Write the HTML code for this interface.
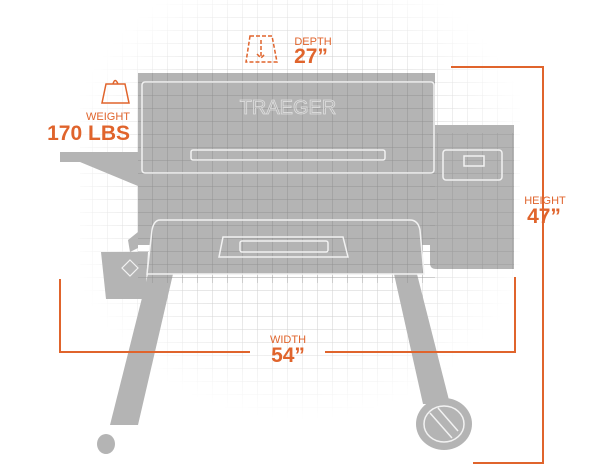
<!DOCTYPE html>
<html><head><meta charset="utf-8"><style>
html,body{margin:0;padding:0;background:#fff;width:600px;height:467px;overflow:hidden}
svg{display:block}
text{font-family:"Liberation Sans",Arial,sans-serif;fill:#e0642c}
</style></head><body>
<svg width="600" height="467" viewBox="0 0 600 467" xmlns="http://www.w3.org/2000/svg">
<defs>
<pattern id="g" width="15" height="13" patternUnits="userSpaceOnUse" x="3" y="5">
<path d="M15 0V13M0 13H15" stroke="#cfcfcf" stroke-width="1" fill="none"/>
</pattern>
<pattern id="gd" width="15" height="13" patternUnits="userSpaceOnUse" x="3" y="5">
<path d="M15 0V13M0 13H15" stroke="#858585" stroke-width="1" fill="none"/>
</pattern>
<radialGradient id="fade" cx="0.5" cy="0.45" r="0.55">
<stop offset="0.6" stop-color="#fff" stop-opacity="1"/>
<stop offset="1" stop-color="#fff" stop-opacity="0"/>
</radialGradient>
<mask id="m"><rect x="80" y="0" width="440" height="420" fill="url(#fade)"/></mask>
</defs>
<rect x="80" y="0" width="440" height="420" fill="url(#g)" mask="url(#m)"/>
<g fill="#b4b4b4">
<rect x="60" y="152" width="82" height="10"/>
<polygon points="80,162 138,162 138,186"/>
<polygon points="128,240 138,232 138,248 130,252"/>
<rect x="430" y="125" width="84" height="8"/>
<path d="M430 133 H514 V269 H436 Q430 269 430 263Z"/>
<rect x="138" y="73" width="297" height="172"/>
<path d="M160 220 H410 Q418 220 420 230 L424 274 H147 L152 230 Q154 220 160 220Z"/>
<polygon points="101,252 148,252 145,299 106,299"/>
<polygon points="148,274 173,274 138,425 110,425"/>
<polygon points="394,274 417,274 450,404 423,404"/>
<ellipse cx="106" cy="444" rx="9" ry="10"/>
<ellipse cx="444" cy="424" rx="28" ry="26"/>
</g>
<rect x="138" y="73" width="297" height="210" fill="url(#gd)" opacity="0.7"/>
<rect x="430" y="133" width="84" height="136" fill="url(#gd)" opacity="0.5"/>
<g fill="none" stroke="#f2f2f2" stroke-width="1.5">
<rect x="142" y="82" width="292" height="91" rx="3"/>
<rect x="191" y="150" width="194" height="10" rx="2"/>
<path d="M160 220 H410 Q418 220 420 230 L424 274 H147 L152 230 Q154 220 160 220Z"/>
<polygon points="223,237 343,237 348,257 219,257"/>
<rect x="240" y="241" width="88" height="11" rx="2"/>
<rect x="443" y="150" width="59" height="30" rx="3"/>
<rect x="464" y="156" width="20" height="10"/>
<ellipse cx="444" cy="424" rx="20" ry="18"/>
<path d="M430 413 L452 438 M438 408 L458 431"/>
<path d="M130 260 L138 268 L130 276 L122 268Z" stroke-width="1.2"/>
</g>
<text x="288" y="114" text-anchor="middle" font-family="Liberation Serif" font-size="20" style="fill:none;stroke:#dedede;stroke-width:0.8">TRAEGER</text>
<g stroke="#e0642c" stroke-width="2" fill="none">
<path d="M451 67 H543 V463 H473"/>
<path d="M60 279 V352 H250 M325 352 H515 V277"/>
<path d="M106 84 H125 L129 103 H102 Z M113 84 Q115 77 118 84" stroke-width="1.5"/>
<path d="M250 36 H272 L277 62 H246 Z M261 40 V58 M257 54 L261 58 L265 54" stroke-dasharray="4 2" stroke-width="1.5"/>
</g>
<text x="313" y="45" text-anchor="middle" font-size="11">DEPTH</text>
<text x="311" y="63" text-anchor="middle" font-size="21" font-weight="bold">27”</text>
<text x="130" y="120" text-anchor="end" font-size="11">WEIGHT</text>
<text x="130" y="140" text-anchor="end" font-size="21" font-weight="bold">170 LBS</text>
<text x="545" y="204" text-anchor="middle" font-size="11">HEIGHT</text>
<text x="544" y="223" text-anchor="middle" font-size="21" font-weight="bold">47”</text>
<text x="288" y="343" text-anchor="middle" font-size="11">WIDTH</text>
<text x="288" y="362" text-anchor="middle" font-size="21" font-weight="bold">54”</text>
</svg>
</body></html>
